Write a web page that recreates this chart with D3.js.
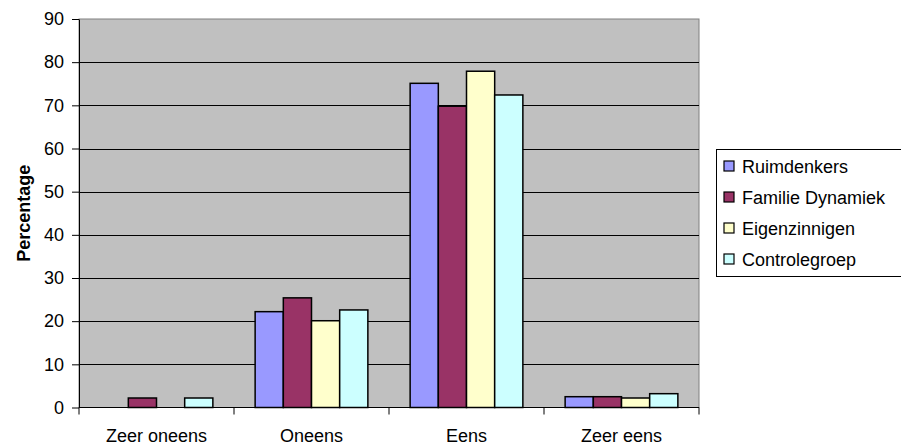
<!DOCTYPE html>
<html>
<head>
<meta charset="utf-8">
<script src="https://cdn.jsdelivr.net/npm/d3@7"></script>
<style>
  html, body { margin: 0; padding: 0; background: #fff; }
  svg { display: block; font-family: "Liberation Sans", Arial, sans-serif; }
</style>
</head>
<body>
<svg id="chart" width="901" height="444"></svg>
<script>
// Survey answers per group, in percent
const categories = ["Zeer oneens", "Oneens", "Eens", "Zeer eens"];
const seriesNames = ["Ruimdenkers", "Familie Dynamiek", "Eigenzinnigen", "Controlegroep"];
const ruimdenkers     = [0,   22.2, 75.1, 2.5];
const familieDynamiek = [2.2, 25.4, 69.8, 2.5];
const eigenzinnigen   = [0,   20.1, 77.9, 2.2];
const controlegroep   = [2.2, 22.6, 72.4, 3.2];
const yTicks = [0, 10, 20, 30, 40, 50, 60, 70, 80, 90];
const colors = ["#9999FF", "#993366", "#FFFFCC", "#CCFFFF"];

const seriesValues = [ruimdenkers, familieDynamiek, eigenzinnigen, controlegroep];

const svg = d3.select("#chart");
const plot = { left: 79, right: 699, top: 19, bottom: 407.5 };

const x = d3.scaleBand().domain(categories).range([plot.left, plot.right]).padding(0);
const xs = d3.scaleBand().domain(seriesNames).range([0, x.bandwidth()])
  .paddingInner(0).paddingOuter(0.75);
const y = d3.scaleLinear().domain([0, 90]).range([plot.bottom, plot.top]);

// plot background
svg.append("rect")
  .attr("x", plot.left).attr("y", plot.top)
  .attr("width", plot.right - plot.left).attr("height", plot.bottom - plot.top)
  .attr("fill", "#C0C0C0")
  .attr("stroke", "#808080").attr("stroke-width", 1);

// horizontal gridlines
svg.append("g").selectAll("line")
  .data(yTicks.filter(d => d > 0 && d < 90))
  .join("line")
  .attr("x1", plot.left).attr("x2", plot.right)
  .attr("y1", d => Math.round(y(d)) + 0.5).attr("y2", d => Math.round(y(d)) + 0.5)
  .attr("stroke", "#000").attr("stroke-width", 1);

// bars
const groups = svg.append("g").selectAll("g")
  .data(seriesNames)
  .join("g")
  .attr("fill", (d, i) => colors[i]);

groups.selectAll("rect")
  .data((name, si) => categories.map((c, ci) => ({ c, name, v: seriesValues[si][ci] })))
  .join("rect")
  .filter(d => d.v > 0)
  .attr("x", d => x(d.c) + xs(d.name))
  .attr("y", d => y(d.v))
  .attr("width", xs.bandwidth())
  .attr("height", d => y(0) - y(d.v))
  .attr("stroke", "#000").attr("stroke-width", 1.5);

// y axis
const yAxis = d3.axisLeft(y).tickValues(yTicks).tickSize(7).tickPadding(8).tickSizeOuter(0);
const gy = svg.append("g").attr("transform", `translate(${plot.left},0)`).call(yAxis);
gy.select(".domain").attr("stroke", "#000");
gy.selectAll(".tick line").attr("stroke", "#000");
gy.selectAll(".tick text").attr("font-size", 18).attr("fill", "#000")
  .attr("font-family", "Liberation Sans, Arial, sans-serif");

// x axis: ticks between categories
const gx = svg.append("g").attr("transform", `translate(0,${plot.bottom})`);
gx.append("line").attr("x1", plot.left).attr("x2", plot.right)
  .attr("y1", 0).attr("y2", 0).attr("stroke", "#000");
gx.selectAll("line.tk")
  .data(categories.map(c => x(c)).concat([plot.right]))
  .join("line").attr("class", "tk")
  .attr("x1", d => d).attr("x2", d => d)
  .attr("y1", 0).attr("y2", 7).attr("stroke", "#000");
gx.selectAll("text")
  .data(categories)
  .join("text")
  .attr("x", d => x(d) + x.bandwidth() / 2)
  .attr("y", 34)
  .attr("text-anchor", "middle")
  .attr("font-size", 18)
  .attr("fill", "#000")
  .text(d => d);

// y axis title
svg.append("text")
  .attr("transform", `translate(30,${(plot.top + plot.bottom) / 2}) rotate(-90)`)
  .attr("text-anchor", "middle")
  .attr("font-size", 18)
  .attr("font-weight", "bold")
  .text("Percentage");

// legend
const lg = svg.append("g").attr("transform", "translate(716,149)");
lg.append("rect")
  .attr("x", 0.5).attr("y", 0.5).attr("width", 200).attr("height", 127)
  .attr("fill", "#fff").attr("stroke", "#000");
const items = lg.selectAll("g.item")
  .data(seriesNames)
  .join("g").attr("class", "item")
  .attr("transform", (d, i) => `translate(0,${17 + i * 31})`);
items.append("rect")
  .attr("x", 8).attr("y", -5).attr("width", 10).attr("height", 10)
  .attr("fill", (d, i) => colors[i]).attr("stroke", "#000").attr("stroke-width", 1.2);
items.append("text")
  .attr("x", 26).attr("y", 6.5)
  .attr("font-size", 18)
  .attr("fill", "#000")
  .text(d => d);
</script>
</body>
</html>
